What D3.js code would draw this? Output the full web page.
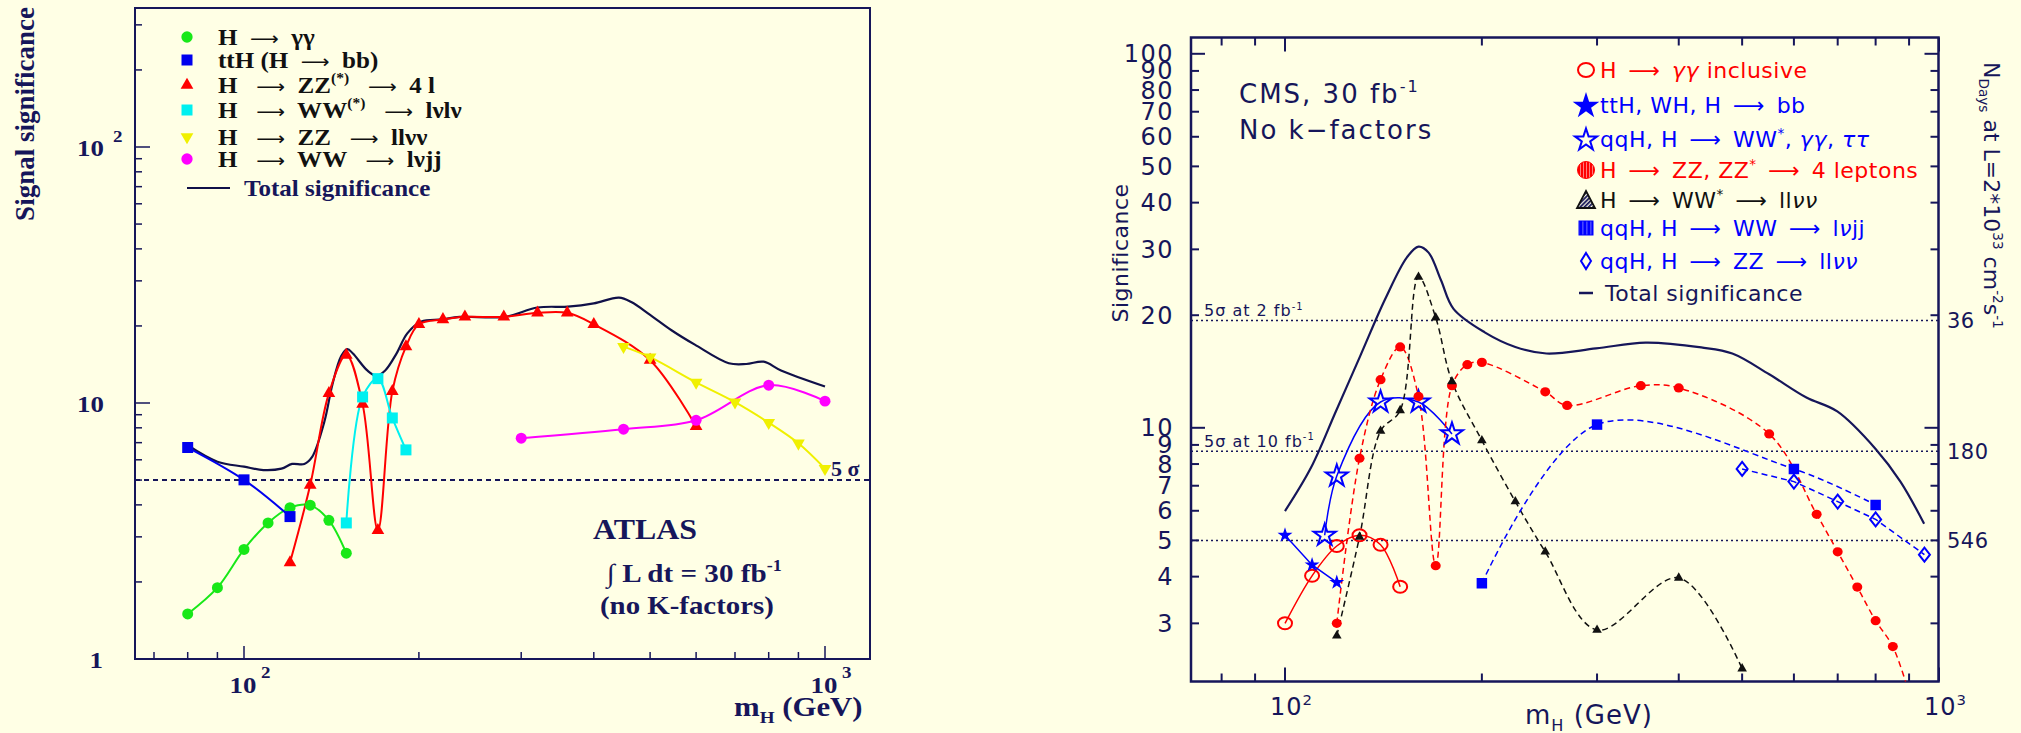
<!DOCTYPE html>
<html><head><meta charset="utf-8">
<script src="https://cdn.jsdelivr.net/npm/d3@7"></script>
<style>
html,body{margin:0;padding:0;background:#ffffe5;}
svg{display:block}
text{white-space:pre}
</style></head><body>
<svg id="c" width="2021" height="733"></svg>
<script>
// ================= DATA =================
// ATLAS (left panel): mH in GeV, significance
const atlasGG_m = [80,90,100,110,120,130,140,150];
const atlasGG_s = [1.50,1.90,2.68,3.40,3.90,3.99,3.48,2.59];
const atlasTTH_m = [80,100,120];
const atlasTTH_s = [6.70,5.01,3.60];
const atlasZZ4l_m = [120,130,140,150,160,170,180,190,200,220,240,280,320,360,400,500,600];
const atlasZZ4l_s = [2.38,4.78,10.9,15.4,9.9,3.18,11.1,16.6,20.3,21.2,21.7,21.7,22.5,22.5,20.3,14.7,8.1];
const atlasWWlvlv_m = [150,160,170,180,190];
const atlasWWlvlv_s = [3.40,10.56,12.45,8.74,6.56];
const atlasZZllvv_m = [450,500,600,700,800,900,1000];
const atlasZZllvv_s = [16.6,15.1,12.04,10.08,8.38,6.96,5.54];
const atlasWWlvjj_m = [300,450,600,800,1000];
const atlasWWlvjj_s = [7.29,7.9,8.56,11.74,10.17];
const atlasTotal_m = [80,90,100,108,116,121,127,131,137.5,142,147,150.6,154,163,169,175,183,191,202,219,235,281,320,361,400,442,464,500,545,597,683,732,784,840,1000];
const atlasTotal_s = [6.84,5.90,5.64,5.47,5.54,5.78,5.78,6.16,8.45,11.84,15.25,16.24,15.6,13.4,12.77,13.4,15.6,18.7,20.8,21.2,21.7,21.7,23.6,23.8,24.5,25.8,24.8,22.1,19.2,16.9,14.3,14.2,14.5,13.4,11.6];
const atlasFiveSigma = 5;
const atlasYTicks = [1,2,3,4,5,6,7,8,9,10,20,30,40,50,60,70,80,90,100,200,300];
const atlasXTicks = [70,80,90,100,200,300,400,500,600,700,800,900,1000];
const atlasLegend = [
  [["H  "],["⟶","arr"],["  γγ"]],
  [["ttH (H  "],["⟶","arr"],["  bb)"]],
  [["H   "],["⟶","arr"],["  ZZ"],["(*)","sup"],["   "],["⟶","arr"],["  4 l"]],
  [["H   "],["⟶","arr"],["  WW"],["(*)","sup"],["   "],["⟶","arr"],["  lνlν"]],
  [["H   "],["⟶","arr"],["  ZZ   "],["⟶","arr"],["  llνν"]],
  [["H   "],["⟶","arr"],["  WW   "],["⟶","arr"],["  lνjj"]],
  [["Total significance"]]
];

// CMS (right panel)
const cmsGG_m = [100,110,120,130,140,150];
const cmsGG_s = [3.0,4.02,4.83,5.16,4.87,3.76];
const cmsTTH_m = [100,110,120];
const cmsTTH_s = [5.16,4.30,3.86];
const cmsQQH_m = [115,120,140,160,180];
const cmsQQH_s = [5.16,7.43,11.72,11.72,9.63];
const cmsZZ4l_m = [120,130,140,150,160,170,180,190,200,250,270,350,400,550,650,700,750,800,850,900];
const cmsZZ4l_s = [3.0,8.29,13.45,16.45,12.13,4.28,12.96,14.75,14.96,12.48,11.48,12.96,12.78,9.63,5.87,4.66,3.75,3.05,2.60,1.95];
const cmsWWllvv_m = [120,130,140,150,160,170,180,200,225,250,300,400,500];
const cmsWWllvv_s = [2.78,5.11,9.8,11.13,25.3,19.7,13.3,9.25,6.35,4.66,2.88,3.97,2.27];
const cmsWWlvjj_m = [200,300,600,800];
const cmsWWlvjj_s = [3.84,10.2,7.76,6.22];
const cmsZZllvv_m = [500,600,700,800,950];
const cmsZZllvv_s = [7.76,7.18,6.35,5.69,4.58];
const cmsTotal_m = [100,109.6,119.6,130.4,142.3,153.7,160,165.8,173.2,181,202,225,251,299,356,433,483,550,627,699,800,873,949];
const cmsTotal_s = [5.99,7.83,11.06,15.6,22.1,28.6,30.5,29.4,24.8,20.8,18.0,16.45,15.8,16.3,16.9,16.4,15.8,13.9,12.05,11.06,8.78,7.18,5.54];
const cmsRefLines = [19.36, 8.66, 5.0];
const cmsRefLeft = [[["5σ at 2 fb"],["-1","sup"]], [["5σ at 10 fb"],["-1","sup"]], null];
const cmsRefRight = ["36","180","546"];
const cmsYTicks = [3,4,5,6,7,8,9,10,20,30,40,50,60,70,80,90,100];
const cmsXTicks = [80,90,100,200,300,400,500,600,700,800,900,1000];
const E="\u2002";
const cmsLegend = [
  [["H"+E+"⟶"+E],["γγ","it"],[" inclusive"]],
  [["ttH, WH, H"+E+"⟶"+E+"bb"]],
  [["qqH, H"+E+"⟶"+E+"WW"],["*","sup"],[", "],["γγ","it"],[", "],["ττ","it"]],
  [["H"+E+"⟶"+E+"ZZ, ZZ"],["*","sup"],[E+"⟶"+E+"4 leptons"]],
  [["H"+E+"⟶"+E+"WW"],["*","sup"],[E+"⟶"+E+"ll"],["νν","it"]],
  [["qqH, H"+E+"⟶"+E+"WW"+E+"⟶"+E+"l"],["ν","it"],["jj"]],
  [["qqH, H"+E+"⟶"+E+"ZZ"+E+"⟶"+E+"ll"],["νν","it"]],
  [["Total significance"]]
];

// ================= DRAWING =================
const W=2021,H=733;
const BG="#ffffe5", NAVY="#16165a";
const RED="#ff0000", BLUE="#0000ff";
const svg=d3.select("#c");
svg.append("rect").attr("width",W).attr("height",H).attr("fill",BG);
const defs=svg.append("defs");

function rich(g,x,y,parts,o){
  const t=g.append("text").attr("x",x).attr("y",y)
    .attr("font-family",o.ff).attr("font-size",o.fs).attr("font-weight",o.fw||"normal")
    .attr("fill",o.fill).attr("text-anchor",o.anchor||"start");
  if(o.ls) t.attr("letter-spacing",o.ls);
  if(o.sx && o.sx!==1) t.attr("transform",`translate(${x},${y}) scale(${o.sx},1) translate(${-x},${-y})`);
  let off=0;
  parts.forEach(p=>{
    const s=p[0],k=p[1];
    const ts=t.append("tspan").text(s);
    let target=0,fs=o.fs;
    if(k==="sup"){target=-o.fs*0.42;fs=o.fs*0.62;}
    else if(k==="sub"){target=o.fs*0.25;fs=o.fs*0.62;}
    if(target-off!==0) ts.attr("dy",target-off);
    off=target;
    if(fs!==o.fs) ts.attr("font-size",fs);
    if(k==="it") ts.attr("font-style","italic");
    if(k==="arr") ts.attr("font-family","'DejaVu Sans',sans-serif").attr("font-weight","normal").attr("font-size",o.fs*0.8);
  });
  return t;
}
const curve=d3.curveCatmullRom.alpha(0.5);
function drawLine(g,x,y,ms,ss,color,lw,dash,cv){
  g.append("path").datum(d3.zip(ms,ss))
    .attr("d",d3.line().x(d=>x(d[0])).y(d=>y(d[1])).curve(cv||curve))
    .attr("fill","none").attr("stroke",color).attr("stroke-width",lw)
    .attr("stroke-dasharray",dash||null);
}
function sym(type,size){return d3.symbol().type(type).size(size)();}
const diamondPath=(hw,hh)=>`M0,${-hh}L${hw},0L0,${hh}L${-hw},0Z`;
function drawMarkers(g,x,y,ms,ss,pathStr,fill,stroke,sw,rot){
  g.selectAll(null).data(d3.zip(ms,ss)).enter().append("path")
    .attr("d",pathStr)
    .attr("transform",d=>`translate(${x(d[0])},${y(d[1])})${rot?` rotate(${rot})`:""}`)
    .attr("fill",fill).attr("stroke",stroke||"none").attr("stroke-width",sw||0);
}

// ---------------- ATLAS PANEL ----------------
const aL=135,aR=870,aT=8,aB=659;
const aX=d3.scaleLog().domain([100,1000]).range([244,825]);
const aY=d3.scaleLog().domain([1,100]).range([aB,147]);
const gA=svg.append("g");
const serifB={ff:"'Liberation Serif','Times New Roman',serif",fw:"bold"};

gA.append("rect").attr("x",aL).attr("y",aT).attr("width",aR-aL).attr("height",aB-aT)
  .attr("fill","none").attr("stroke",NAVY).attr("stroke-width",2);
atlasYTicks.forEach(v=>{
  const maj=[1,10,100].includes(v);
  gA.append("line").attr("x1",aL).attr("x2",aL+(maj?15:7)).attr("y1",aY(v)).attr("y2",aY(v))
    .attr("stroke",NAVY).attr("stroke-width",1.5);
});
atlasXTicks.forEach(v=>{
  const maj=[100,1000].includes(v);
  gA.append("line").attr("y1",aB).attr("y2",aB-(maj?13:7)).attr("x1",aX(v)).attr("x2",aX(v))
    .attr("stroke",NAVY).attr("stroke-width",1.5);
});
const aTick={...serifB,fs:24,fill:NAVY,sx:1.12};
rich(gA,103,aY(1)+9,[["1"]],{...aTick,anchor:"end"});
rich(gA,104,aY(10)+9,[["10"]],{...aTick,anchor:"end"});
rich(gA,104,aY(100)+9,[["10"]],{...aTick,anchor:"end"});
rich(gA,113,aY(100)-5,[["2"]],{...aTick,fs:17});
[100,1000].forEach((v,i)=>{
  rich(gA,aX(v)-1,693,[["10"]],{...aTick,anchor:"middle"});
  rich(gA,aX(v)+17,678,[[i?"3":"2"]],{...aTick,fs:17});
});
rich(gA,734,716,[["m"],["H","sub"],[" (GeV)"]],{...serifB,fs:28,fill:NAVY,sx:1.1});
{
  const gt=gA.append("g").attr("transform","translate(34,114) rotate(-90)");
  rich(gt,0,0,[["Signal significance"]],{...serifB,fs:27,fill:NAVY,anchor:"middle"});
}
gA.append("line").attr("x1",aL).attr("x2",aR).attr("y1",aY(atlasFiveSigma)).attr("y2",aY(atlasFiveSigma))
  .attr("stroke",NAVY).attr("stroke-width",2).attr("stroke-dasharray","5,4");
rich(gA,831,476,[["5 σ"]],{...serifB,fs:22,fill:NAVY});

const cGreen="#18e818",cBlueA="#0000ee",cRedA="#ff0000",cCyan="#00f0f0",cYel="#f0f000",cMag="#ff00ff",cTot="#101048";
drawLine(gA,aX,aY,atlasTotal_m,atlasTotal_s,cTot,2.2);
drawLine(gA,aX,aY,atlasGG_m,atlasGG_s,cGreen,2);
drawLine(gA,aX,aY,atlasTTH_m,atlasTTH_s,cBlueA,2);
drawLine(gA,aX,aY,atlasZZ4l_m,atlasZZ4l_s,cRedA,2);
drawLine(gA,aX,aY,atlasWWlvlv_m,atlasWWlvlv_s,cCyan,2);
drawLine(gA,aX,aY,atlasZZllvv_m,atlasZZllvv_s,cYel,2);
drawLine(gA,aX,aY,atlasWWlvjj_m,atlasWWlvjj_s,cMag,2);
drawMarkers(gA,aX,aY,atlasGG_m,atlasGG_s,sym(d3.symbolCircle,95),cGreen);
drawMarkers(gA,aX,aY,atlasTTH_m,atlasTTH_s,sym(d3.symbolSquare,121),cBlueA);
drawMarkers(gA,aX,aY,atlasZZ4l_m,atlasZZ4l_s,sym(d3.symbolTriangle,70),cRedA);
drawMarkers(gA,aX,aY,atlasWWlvlv_m,atlasWWlvlv_s,sym(d3.symbolSquare,121),cCyan);
drawMarkers(gA,aX,aY,atlasZZllvv_m,atlasZZllvv_s,sym(d3.symbolTriangle,70),cYel,null,0,180);
drawMarkers(gA,aX,aY,atlasWWlvjj_m,atlasWWlvjj_s,sym(d3.symbolCircle,95),cMag);

const aLegY=[37,60,85,110,137,159,188];
const aLegMk=[[sym(d3.symbolCircle,100),cGreen,0],[sym(d3.symbolSquare,121),cBlueA,0],[sym(d3.symbolTriangle,70),cRedA,0],
  [sym(d3.symbolSquare,121),cCyan,0],[sym(d3.symbolTriangle,70),cYel,180],[sym(d3.symbolCircle,100),cMag,0]];
atlasLegend.forEach((parts,i)=>{
  const y=aLegY[i];
  if(i<6){
    const m=aLegMk[i];
    gA.append("path").attr("d",m[0]).attr("fill",m[1]).attr("transform",`translate(187,${y}) rotate(${m[2]})`);
    rich(gA,218,y+8,parts,{...serifB,fs:23,fill:"#111",sx:1.09});
  } else {
    gA.append("line").attr("x1",187).attr("x2",230).attr("y1",y).attr("y2",y).attr("stroke",cTot).attr("stroke-width",2);
    rich(gA,244,y+8,parts,{...serifB,fs:23,fill:NAVY,sx:1.09});
  }
});
rich(gA,593,539,[["ATLAS"]],{...serifB,fs:29,fill:NAVY,sx:1.1});
rich(gA,607,582,[["∫ L dt = 30 fb"],["-1","sup"]],{...serifB,fs:26,fill:NAVY,sx:1.12});
rich(gA,600,614,[["(no K-factors)"]],{...serifB,fs:26,fill:NAVY,sx:1.11});

// ---------------- CMS PANEL ----------------
const cL=1191,cR=1938.5,cT=37.5,cB=681.5;
const cX=d3.scaleLog().domain([100,1000]).range([1285,1939]);
const cY=d3.scaleLog().domain([10,100]).range([427.8,53.8]);
const gC=svg.append("g");
const sans={ff:"'DejaVu Sans',sans-serif"};
defs.append("clipPath").attr("id","cclip").append("rect").attr("x",cL).attr("y",cT).attr("width",cR-cL).attr("height",cB-cT);

cmsRefLines.forEach((v,i)=>{
  gC.append("line").attr("x1",cL).attr("x2",cR).attr("y1",cY(v)).attr("y2",cY(v))
    .attr("stroke",NAVY).attr("stroke-width",1.5).attr("stroke-dasharray","2,3");
  if(cmsRefLeft[i]) rich(gC,1204,cY(v)-4,cmsRefLeft[i],{...sans,fs:16,fill:NAVY,ls:1});
  rich(gC,1947,cY(v)+8,[[cmsRefRight[i]]],{...sans,fs:21,fill:NAVY,ls:0.5});
});

gC.append("rect").attr("x",cL).attr("y",cT).attr("width",cR-cL).attr("height",cB-cT)
  .attr("fill","none").attr("stroke",NAVY).attr("stroke-width",2.5);
cmsYTicks.forEach(v=>{
  const maj=[10,100].includes(v), len=maj?14:8;
  gC.append("line").attr("x1",cL).attr("x2",cL+len).attr("y1",cY(v)).attr("y2",cY(v)).attr("stroke",NAVY).attr("stroke-width",2);
  gC.append("line").attr("x1",cR).attr("x2",cR-len).attr("y1",cY(v)).attr("y2",cY(v)).attr("stroke",NAVY).attr("stroke-width",2);
  rich(gC,1174,cY(v)+8.5,[[String(v)]],{...sans,fs:24,fill:NAVY,anchor:"end",ls:1.5});
});
cmsXTicks.forEach(v=>{
  const maj=[100,1000].includes(v), len=maj?14:8;
  gC.append("line").attr("x1",cX(v)).attr("x2",cX(v)).attr("y1",cB).attr("y2",cB-len).attr("stroke",NAVY).attr("stroke-width",2);
  gC.append("line").attr("x1",cX(v)).attr("x2",cX(v)).attr("y1",cT).attr("y2",cT+len).attr("stroke",NAVY).attr("stroke-width",2);
});
[100,1000].forEach((v,i)=>{
  rich(gC,cX(v)-15,715,[["10"],[i?"3":"2","sup"]],{...sans,fs:24,fill:NAVY,ls:1});
});
rich(gC,1525,724,[["m"],["H","sub"],[" (GeV)"]],{...sans,fs:26,fill:NAVY,ls:1});
{
  const gt=gC.append("g").attr("transform","translate(1128,253) rotate(-90)");
  rich(gt,0,0,[["Significance"]],{...sans,fs:22,fill:NAVY,anchor:"middle",ls:0.5});
  const gr=gC.append("g").attr("transform","translate(1984,62) rotate(90)");
  rich(gr,0,0,[["N"],["Days","sub"],[" at L=2*10"],["33","sup"],[" cm"],["-2","sup"],["s"],["-1","sup"]],{...sans,fs:22,fill:NAVY});
}
rich(gC,1239,103,[["CMS, 30 fb"],["-1","sup"]],{...sans,fs:26,fill:NAVY,ls:2});
rich(gC,1239,139,[["No k−factors"]],{...sans,fs:26,fill:NAVY,ls:2});

const gS=gC.append("g").attr("clip-path","url(#cclip)");
drawLine(gS,cX,cY,cmsTotal_m,cmsTotal_s,NAVY,2.2);
drawLine(gS,cX,cY,cmsGG_m,cmsGG_s,RED,1.5);
drawLine(gS,cX,cY,cmsTTH_m,cmsTTH_s,BLUE,1.5,null,d3.curveLinear);
drawLine(gS,cX,cY,cmsQQH_m,cmsQQH_s,BLUE,1.5);
drawLine(gS,cX,cY,cmsZZ4l_m,cmsZZ4l_s,RED,1.5,"6,4");
drawLine(gS,cX,cY,cmsWWllvv_m,cmsWWllvv_s,"#111",1.5,"6,4");
drawLine(gS,cX,cY,cmsWWlvjj_m,cmsWWlvjj_s,BLUE,1.5,"6,4");
drawLine(gS,cX,cY,cmsZZllvv_m,cmsZZllvv_s,BLUE,1.5,"6,4",d3.curveLinear);

const pR=defs.append("pattern").attr("id","hR").attr("patternUnits","userSpaceOnUse").attr("width",3).attr("height",3);
pR.append("rect").attr("width",3).attr("height",3).attr("fill",RED);
pR.append("rect").attr("x",2).attr("width",0.8).attr("height",3).attr("fill","#ff9a9a");
const pB=defs.append("pattern").attr("id","hB").attr("patternUnits","userSpaceOnUse").attr("width",4).attr("height",4);
pB.append("rect").attr("width",4).attr("height",4).attr("fill",BLUE);
pB.append("rect").attr("x",2.5).attr("width",0.8).attr("height",4).attr("fill","#8c8cff");
const pT=defs.append("pattern").attr("id","hT").attr("patternUnits","userSpaceOnUse").attr("width",3).attr("height",3).attr("patternTransform","rotate(45)");
pT.append("rect").attr("width",3).attr("height",3).attr("fill",BG);
pT.append("rect").attr("width",1.8).attr("height",3).attr("fill",NAVY);

const star=(s)=>sym(d3.symbolStar,s);
drawMarkers(gS,cX,cY,cmsGG_m,cmsGG_s,"M-7,0a7,6 0 1,0 14,0a7,6 0 1,0 -14,0Z","none",RED,2);
drawMarkers(gS,cX,cY,cmsTTH_m,cmsTTH_s,star(70),BLUE);
drawMarkers(gS,cX,cY,cmsQQH_m,cmsQQH_s,star(150),"none",BLUE,2);
drawMarkers(gS,cX,cY,cmsZZ4l_m,cmsZZ4l_s,"M-5,0a5,4.6 0 1,0 10,0a5,4.6 0 1,0 -10,0Z",RED);
drawMarkers(gS,cX,cY,cmsWWllvv_m,cmsWWllvv_s,sym(d3.symbolTriangle,40),"#111");
drawMarkers(gS,cX,cY,cmsWWlvjj_m,cmsWWlvjj_s,sym(d3.symbolSquare,110),BLUE);
drawMarkers(gS,cX,cY,cmsZZllvv_m,cmsZZllvv_s,diamondPath(5.5,7),"none",BLUE,2);

const cLegY=[70,105,139,170,200,228,261,293];
const cLegCol=[RED,BLUE,BLUE,RED,"#111",BLUE,BLUE,NAVY];
const lx=1586;
gC.append("path").attr("d","M-8,0a8,7 0 1,0 16,0a8,7 0 1,0 -16,0Z").attr("fill","none").attr("stroke",RED).attr("stroke-width",2).attr("transform",`translate(${lx},${cLegY[0]})`);
gC.append("path").attr("d",star(220)).attr("fill",BLUE).attr("transform",`translate(${lx},${cLegY[1]+1})`);
gC.append("path").attr("d",star(150)).attr("fill","none").attr("stroke",BLUE).attr("stroke-width",2).attr("transform",`translate(${lx},${cLegY[2]+1})`);
gC.append("circle").attr("cx",lx).attr("cy",cLegY[3]).attr("r",8.5).attr("fill","url(#hR)").attr("stroke",RED).attr("stroke-width",1);
gC.append("path").attr("d","M0,-9L9,8L-9,8Z").attr("fill","url(#hT)").attr("stroke","#111").attr("stroke-width",1.8).attr("transform",`translate(${lx},${cLegY[4]})`);
gC.append("rect").attr("x",lx-7).attr("y",cLegY[5]-7).attr("width",14).attr("height",14).attr("fill","url(#hB)").attr("stroke",BLUE).attr("stroke-width",1);
gC.append("path").attr("d",diamondPath(5,8)).attr("fill","none").attr("stroke",BLUE).attr("stroke-width",2).attr("transform",`translate(${lx},${cLegY[6]})`);
gC.append("line").attr("x1",lx-7).attr("x2",lx+7).attr("y1",cLegY[7]).attr("y2",cLegY[7]).attr("stroke",NAVY).attr("stroke-width",2.5);
cmsLegend.forEach((parts,i)=>{
  rich(gC,i===7?1605:1600,cLegY[i]+8,parts,{...sans,fs:22,fill:cLegCol[i],ls:0.5});
});
</script></body></html>
